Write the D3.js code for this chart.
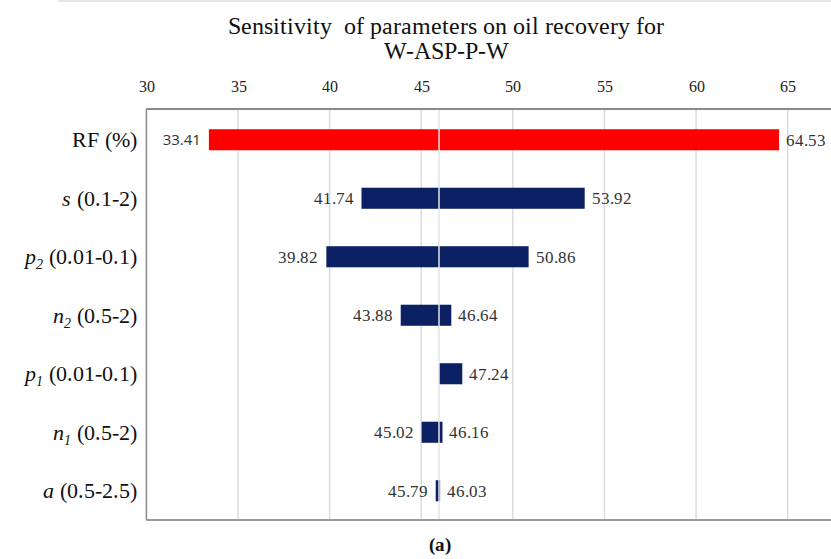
<!DOCTYPE html>
<html>
<head>
<meta charset="utf-8">
<script src="https://cdn.jsdelivr.net/npm/d3@7"></script>
<style>
@font-face { font-family: "ChartSerif"; font-style: normal; font-weight: 400; src: local("Liberation Serif"), local("LiberationSerif"), local("LiberationSerif-Regular"), local("Tinos"), local("Times New Roman"); }
@font-face { font-family: "ChartSerif"; font-style: italic; font-weight: 400; src: local("Liberation Serif Italic"), local("LiberationSerif-Italic"), local("Tinos Italic"), local("Times New Roman Italic"); }
@font-face { font-family: "ChartSerif"; font-style: normal; font-weight: 700; src: local("Liberation Serif Bold"), local("LiberationSerif-Bold"), local("Tinos Bold"), local("Times New Roman Bold"); }
#chart, #chart text, #chart tspan { font-family: "ChartSerif", "Liberation Serif", "Times New Roman", Tinos !important; }
#chart text.sans { font-family: "Open Sans", "Liberation Sans" !important; }
</style>
</head>
<body style="margin:0">
<svg id="chart" width="831" height="559" font-family="Liberation Serif"></svg>
<script>
// ---- data ----
const symbols    = ["RF", "s", "p", "n", "p", "n", "a"];
const subscripts = ["", "", "2", "2", "1", "1", ""];
const ranges     = ["(%)", "(0.1-2)", "(0.01-0.1)", "(0.5-2)", "(0.01-0.1)", "(0.5-2)", "(0.5-2.5)"];
const lowValues  = [33.41, 41.74, 39.82, 43.88, 45.97, 45.02, 45.79];
const highValues = [64.53, 53.92, 50.86, 46.64, 47.24, 46.16, 46.03];
const lowLabels  = ["33.41", "41.74", "39.82", "43.88", "", "45.02", "45.79"];
const highLabels = ["64.53", "53.92", "50.86", "46.64", "47.24", "46.16", "46.03"];
const baseValue  = 45.97;
const tickValues = [30, 35, 40, 45, 50, 55, 60, 65];
const titleLines = ["Sensitivity\u00a0\u00a0of parameters on oil recovery for", "W-ASP-P-W"];

const categories = symbols.map((s, i) => s + subscripts[i] + " " + ranges[i]);
const rows = categories.map((c, i) => ({
  cat: c, sym: symbols[i], sub: subscripts[i], range: ranges[i],
  low: lowValues[i], high: highValues[i], lowLabel: lowLabels[i], highLabel: highLabels[i], idx: i
}));

// ---- layout ----
const plotLeft = 146.4, plotTop = 109, plotBottom = 520, plotRight = 831;
const svg = d3.select("#chart");

const x = d3.scaleLinear().domain([30, 65]).range([plotLeft, 787.7]);
const y = d3.scaleBand().domain(categories).range([110.5, plotBottom])
  .paddingInner(0.64).paddingOuter(0.32);

// top thin rule
svg.append("line").attr("x1", 58).attr("x2", 831).attr("y1", 1).attr("y2", 1)
  .attr("stroke", "#dedede").attr("stroke-width", 1.5);

// title
svg.append("g").selectAll("text").data(titleLines).join("text")
  .attr("x", 446).attr("y", (d, i) => 34 + i * 25)
  .attr("text-anchor", "middle")
  .style("font-size", "24px").attr("fill", "#111")
  .text(d => d);

// gridlines
svg.append("g").selectAll("line").data(tickValues.filter(t => t > 30)).join("line")
  .attr("x1", d => x(d)).attr("x2", d => x(d))
  .attr("y1", plotTop).attr("y2", plotBottom)
  .attr("stroke", "#dcdcdc").attr("stroke-width", 1.5);

// top axis with tick labels
const axis = d3.axisTop(x).tickValues(tickValues).tickSize(0).tickPadding(0).tickFormat(d3.format("d"));
const gAxis = svg.append("g").attr("transform", "translate(0, 86)").call(axis);
gAxis.attr("font-family", null);
gAxis.select(".domain").remove();
gAxis.selectAll("text")
  .style("font-size", "16px").attr("fill", "#222")
  .attr("dy", "0.35em").attr("y", 0);

// bars
svg.append("g").selectAll("rect").data(rows).join("rect")
  .attr("x", d => x(Math.min(d.low, d.high)))
  .attr("width", d => Math.abs(x(d.high) - x(d.low)))
  .attr("y", d => y(d.cat))
  .attr("height", y.bandwidth())
  .attr("fill", d => d.idx === 0 ? "#ff0000" : "#0c2163");

// base value line
svg.append("line")
  .attr("x1", x(baseValue)).attr("x2", x(baseValue))
  .attr("y1", plotTop).attr("y2", plotBottom)
  .attr("stroke", "#e4e4e4").attr("stroke-width", 1.5);

// frame
svg.append("line").attr("x1", plotLeft).attr("x2", plotRight).attr("y1", plotTop).attr("y2", plotTop)
  .attr("stroke", "#8a8a8a").attr("stroke-width", 2);
svg.append("line").attr("x1", plotLeft).attr("x2", plotRight).attr("y1", plotBottom).attr("y2", plotBottom)
  .attr("stroke", "#9a9a9a").attr("stroke-width", 2);
svg.append("line").attr("x1", plotLeft).attr("x2", plotLeft).attr("y1", plotTop).attr("y2", plotBottom)
  .attr("stroke", "#8a8a8a").attr("stroke-width", 1.5);

// value labels
const labelG = svg.append("g");
labelG.selectAll("text.low").data(rows.filter(d => d.lowLabel)).join("text")
  .attr("class", d => d.idx === 0 ? "low sans" : "low")
  .attr("x", d => x(d.low) - 8)
  .attr("y", d => y(d.cat) + y.bandwidth() / 2)
  .attr("dy", "0.35em").attr("text-anchor", "end")
  .style("font-size", d => d.idx === 0 ? "15px" : "17px").attr("fill", "#333")
  .text(d => d.lowLabel);
labelG.selectAll("text.high").data(rows).join("text")
  .attr("class", "high")
  .attr("x", d => x(d.high) + 7)
  .attr("y", d => y(d.cat) + y.bandwidth() / 2)
  .attr("dy", "0.35em").attr("text-anchor", "start")
  .style("font-size", "17px").attr("fill", "#333")
  .text(d => d.highLabel);

// category labels
const catG = svg.append("g").selectAll("text").data(rows).join("text")
  .attr("x", 137)
  .attr("y", d => y(d.cat) + y.bandwidth() / 2)
  .attr("dy", "0.35em").attr("text-anchor", "end")
  .style("font-size", "22px").attr("fill", "#111");
catG.append("tspan")
  .style("font-style", d => d.idx === 0 ? "normal" : "italic")
  .text(d => d.sym);
catG.filter(d => d.sub).append("tspan")
  .style("font-style", "italic").style("font-size", "14px").attr("dy", 5)
  .text(d => d.sub);
catG.append("tspan")
  .attr("dy", d => d.sub ? -5 : 0)
  .text(d => "\u00a0" + d.range);

// panel label
svg.append("text").attr("x", 440).attr("y", 551)
  .attr("text-anchor", "middle")
  .style("font-size", "19px").style("font-weight", "bold").attr("fill", "#111")
  .text("(a)");
</script>
</body>
</html>
